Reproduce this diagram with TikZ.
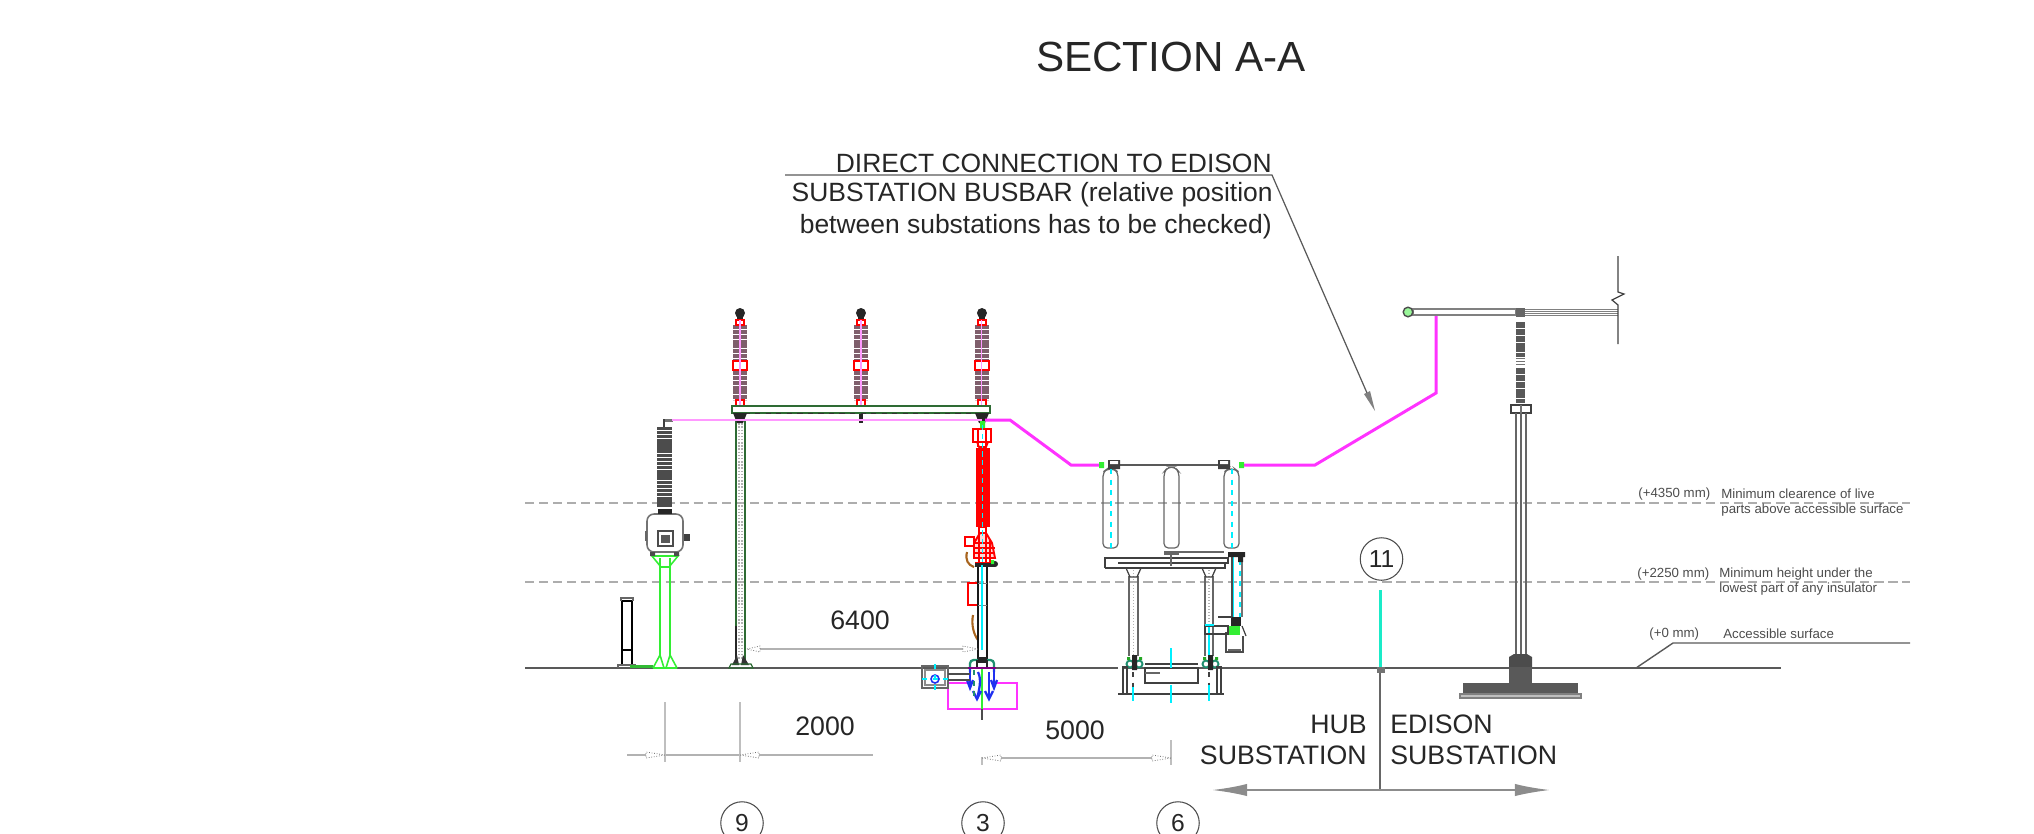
\documentclass[tikz,border=0pt]{standalone}
\usepackage{fontspec}
\setmainfont{Liberation Sans}
\usetikzlibrary{arrows.meta}

\definecolor{shedgray}{HTML}{7F5F6C}
\definecolor{wiremag}{HTML}{FF33FF}
\definecolor{paleMag}{HTML}{FF99FF}
\definecolor{lime}{HTML}{33EE33}
\definecolor{darkgreen}{HTML}{2E6B34}
\definecolor{seagreen}{HTML}{1F8F70}
\definecolor{brownwire}{HTML}{A8641E}
\definecolor{brightcyan}{HTML}{00F0FF}
\definecolor{boundcyan}{HTML}{1AEBC8}
\definecolor{wireblue}{HTML}{2030F0}

\tikzset{
  bigtext/.style={inner sep=0pt, font=\fontsize{15.2}{15.2}\selectfont, text=black!85},
  notetext/.style={inner sep=0pt, anchor=base east, font=\fontsize{15.05}{15.05}\selectfont, text=black!85},
  smalltext/.style={inner sep=0pt, anchor=base west, font=\fontsize{7.55}{7.55}\selectfont, text=black!70},
  callout/.style={circle, draw=black!70, line width=0.6pt, minimum size=42.5*0.02cm, inner sep=0pt, font=\fontsize{14}{14}\selectfont, text=black!85},
  levelline/.style={draw=black!32, line width=1.1pt, dash pattern=on 5.2pt off 2.8pt},
  dimline/.style={draw=black!30, line width=0.8pt},
  extline/.style={draw=black!25, line width=0.6pt},
  dimtip/.style={draw=black!55, line width=0.45pt, densely dotted},
  steel/.style={draw=black!75, line width=0.7pt},
  thinsteel/.style={draw=black!60, line width=0.7pt},
  sheds/.style={line width=8pt, dash pattern=on 2.3pt off 0.45pt},
  busbar/.style={draw=wiremag, line width=1.7pt, line join=miter},
}

\begin{document}
\begin{tikzpicture}[x=0.02cm, y=-0.02cm, >=stealth]
  \useasboundingbox (0,0) rectangle (2034,833);
  \clip (0,0) rectangle (2034,833);

  %%%%%%%%%%%%%%%%%%%%%%%%%%%%%%%%%%%%%%%%%%%%%%%%%
  % Title and note
  \node[inner sep=0pt, font=\fontsize{24}{24}\selectfont, text=black!85] (title) at (1171,57) {SECTION A-A};

  \node[notetext] (noteA) at (1272,172) {DIRECT CONNECTION TO EDISON};
  \node[notetext] (noteB) at (1273,201) {SUBSTATION BUSBAR (relative position};
  \node[notetext] (noteC) at (1272,233) {between substations has to be checked)};

  \coordinate (noteStart) at (785,175);
  \coordinate (noteKnee) at (1272,175);
  \coordinate (noteTip) at (1375,411);
  \draw[draw=black!65, line width=0.7pt] (noteStart) -- (noteKnee) -- (1367,393);
  \fill[black!50] (noteTip) -- (1364,394) -- (1370,391) -- cycle;

  %%%%%%%%%%%%%%%%%%%%%%%%%%%%%%%%%%%%%%%%%%%%%%%%%
  % Levels
  \coordinate (levelA) at (525,503);
  \coordinate (levelAend) at (1910,503);
  \coordinate (levelB) at (525,582);
  \coordinate (levelBend) at (1910,582);
  \draw[levelline] (levelA) -- (levelAend);
  \draw[levelline] (levelB) -- (levelBend);

  \coordinate (groundL) at (525,668);
  \coordinate (groundR) at (1781,668);
  \draw[draw=black!65, line width=1.1pt] (groundL) -- (groundR);
  \coordinate (surfFoot) at (1636,668);
  \coordinate (surfKnee) at (1673,643);
  \coordinate (surfEnd) at (1910,643);
  \draw[draw=black!65, line width=0.8pt] (surfFoot) -- (surfKnee) -- (surfEnd);

  \node[smalltext] (lvlA) at (1638,497) {(+4350 mm)};
  \node[smalltext] (lvlAa) at (1721,498) {Minimum clearence of live};
  \node[smalltext] (lvlAb) at (1721,513) {parts above accessible surface};
  \node[smalltext] (lvlB) at (1637,577) {(+2250 mm)};
  \node[smalltext] (lvlBa) at (1719,577) {Minimum height under the};
  \node[smalltext] (lvlBb) at (1719,592) {lowest part of any insulator};
  \node[smalltext] (lvlC) at (1649,637) {(+0 mm)};
  \node[smalltext] (lvlCa) at (1723,638) {Accessible surface};

  %%%%%%%%%%%%%%%%%%%%%%%%%%%%%%%%%%%%%%%%%%%%%%%%%
  % Cabinet and voltage transformer
  \draw[draw=black, line width=1.6pt] (622,601) rectangle (632,665);
  \draw[draw=black, line width=1.2pt] (622,650) -- (632,650);
  \draw[thinsteel] (621,601) -- (621,598) -- (633,598) -- (633,601);
  \draw[thinsteel] (618,668) -- (618,665) -- (636,665);
  \fill[lime!60!darkgreen] (630,665) rectangle (653,668);

  \draw[draw=lime, line width=0.9pt] (660,558) -- (660,655) (670,558) -- (670,655);
  \draw[draw=lime, line width=0.9pt] (652,556) -- (678,556) -- (669,567) -- (661,567) -- cycle;
  \draw[draw=lime, line width=0.9pt] (653,668) -- (660,655) -- (664,668) (677,668) -- (670,655) -- (666,668) (653,668) -- (677,668);

  \draw[draw=black!55, line width=0.9pt, fill=white, rounded corners=4pt] (647,552) -- (647,514) -- (683,514) -- (683,552) -- cycle;
  \draw[draw=black!70, line width=0.8pt] (658,531) rectangle (673,546);
  \fill[black!65] (661,535) rectangle (670,543);
  \fill[black!75] (684,534) rectangle (690,541);
  \fill[black!60] (645,531) rectangle (647,541);
  \fill[black!70] (650,552) rectangle (655,556) (674,552) rectangle (679,556);
  \fill[black!85] (658,509) rectangle (672,514);
  \draw[draw=black!70, line width=8.6pt, dash pattern=on 1.8pt off 0.4pt] (664.5,427) -- (664.5,507);
  \draw[steel] (664,427) -- (664,420) -- (672,420);
  \fill[black!55] (665,419) rectangle (673,422);

  %%%%%%%%%%%%%%%%%%%%%%%%%%%%%%%%%%%%%%%%%%%%%%%%%
  % Insulators on the gantry
  \begin{scope}
    \fill[black!85] (740,313) circle[radius=5];
    \fill[black!85] (737,317) rectangle (743,320);
    \draw[sheds, draw=shedgray] (740,325) -- (740,360);
    \draw[sheds, draw=shedgray] (740,371) -- (740,400);
    \draw[draw=red, line width=1.1pt] (733,361) rectangle (747,370);
    \draw[draw=red, line width=1pt] (736,320) rectangle (744,325) (736,400) rectangle (744,406);
    \draw[draw=paleMag, line width=0.6pt] (740,320) -- (740,406);
  \end{scope}

  \begin{scope}[xshift=2.42cm]
    \fill[black!85] (740,313) circle[radius=5];
    \fill[black!85] (737,317) rectangle (743,320);
    \draw[sheds, draw=shedgray] (740,325) -- (740,360);
    \draw[sheds, draw=shedgray] (740,371) -- (740,400);
    \draw[draw=red, line width=1.1pt] (733,361) rectangle (747,370);
    \draw[draw=red, line width=1pt] (736,320) rectangle (744,325) (736,400) rectangle (744,406);
    \draw[draw=paleMag, line width=0.6pt] (740,320) -- (740,406);
    \fill[black!85] (738,414) rectangle (742,423);
  \end{scope}

  \begin{scope}[xshift=4.84cm]
    \fill[black!85] (740,313) circle[radius=5];
    \fill[black!85] (737,317) rectangle (743,320);
    \draw[sheds, draw=shedgray] (740,325) -- (740,360);
    \draw[sheds, draw=shedgray] (740,371) -- (740,400);
    \draw[draw=red, line width=1.1pt] (733,361) rectangle (747,370);
    \draw[draw=red, line width=1pt] (736,320) rectangle (744,325) (736,400) rectangle (744,406);
    \draw[draw=paleMag, line width=0.6pt] (740,320) -- (740,406);
  \end{scope}

  % Gantry
  \draw[draw=darkgreen, line width=1pt, fill=white] (732,406) rectangle (990,413);
  \draw[draw=black!80, line width=0.5pt, dashed] (734,413) -- (988,413);
  \draw[draw=darkgreen, line width=0.9pt] (736,420) -- (736,662) (745,420) -- (745,662);
  \draw[draw=black!30, line width=0.8pt, densely dotted] (739,420) -- (739,660) (742,420) -- (742,660);
  \draw[draw=black!85, line width=0.9pt] (736,626) -- (736,660);
  \fill[black!85] (733,413) -- (747,413) -- (743,423) -- (737,423) -- cycle;
  \fill[black!85] (975,413) -- (989,413) -- (985,423) -- (979,423) -- cycle;
  \fill[black!80] (732,665) -- (737,655) -- (739,665) -- cycle (749,665) -- (743,655) -- (741,665) -- cycle;
  \draw[draw=darkgreen, line width=0.7pt] (729,668) -- (731,664) -- (751,664) -- (753,668) -- cycle;

  %%%%%%%%%%%%%%%%%%%%%%%%%%%%%%%%%%%%%%%%%%%%%%%%%
  % Busbar
  \coordinate (busHV) at (672,420);
  \coordinate (busKnee) at (1010,420);
  \draw[draw=paleMag, line width=1pt] (busHV) -- (982,420);
  \draw[busbar] (985,420) -- (busKnee) -- (1071,465) -- (1100,465);
  \draw[busbar] (1243,465) -- (1315,465) -- (1436,393) -- (1436,315);
  \fill[lime] (1099,462) rectangle (1104,468) (1239,462) rectangle (1244,468);

  %%%%%%%%%%%%%%%%%%%%%%%%%%%%%%%%%%%%%%%%%%%%%%%%%
  % Surge arrester
  \begin{scope}
    \fill[red] (975.5,448) rectangle (989.5,527);
    \draw[draw=red, line width=1.4pt] (973,429) rectangle (991,442);
    \draw[draw=red, line width=0.8pt] (978,429) -- (978,447) (986,429) -- (986,447);
    \draw[draw=red, line width=1pt] (977,442) -- (988,442) -- (986,447) -- (979,447) -- cycle;
    \draw[draw=red, line width=1pt] (979,527) rectangle (986,534);
    \draw[draw=red, line width=1.1pt, fill=red!15] (974,558) -- (974,543) -- (980,533) -- (986,533) -- (992,543) -- (995,558) -- cycle;
    \draw[draw=red, line width=0.9pt] (974,543) -- (992,543) (974,548) -- (995,548) (974,553) -- (995,553) (979,534) -- (979,563) (986,534) -- (986,563) (990,540) -- (990,563) (975,563) -- (992,563);
    \draw[draw=red, line width=1.1pt] (965,537) -- (974,537) -- (974,546) -- (965,546) -- cycle;
    \draw[draw=red, line width=0.9pt] (968,583) rectangle (978,605);

    \draw[draw=brownwire, line width=1.2pt] (967,552) .. controls (965,560) and (968,565) .. (974,567);
    \draw[draw=brownwire, line width=1.2pt] (973,615) .. controls (971,625) and (974,635) .. (978,640);
    \fill[black!85] (975,563) rectangle (995,567);
    \fill[black!85] (995,564) circle[radius=3];
    \fill[lime] (991,560) rectangle (994,564) (980,421) rectangle (985,428);

    \draw[draw=black!90, line width=0.9pt] (978,567) -- (978,663) (987,567) -- (987,663);
    \draw[draw=black!50, line width=0.5pt] (978,583) -- (987,583) (978,605) -- (987,605);
    \draw[draw=brightcyan, line width=0.5pt, densely dashed] (982,425) -- (982,565);
    \draw[draw=brightcyan, line width=0.9pt] (982,565) -- (982,650);
  \end{scope}

  % Surge arrester foundation
  \draw[draw=wiremag, line width=0.9pt] (948,683) rectangle (1017,709);
  \fill[white] (970,680) rectangle (994,700);
  \draw[draw=lime, line width=0.8pt] (982,668) -- (982,709);
  \draw[draw=black!70, line width=0.6pt] (982,709) -- (982,720);
  \draw[draw=seagreen, line width=1.3pt, rounded corners=2pt] (970,672) -- (970,660) -- (994,660) -- (994,672);
  \draw[draw=black!85, line width=1pt] (977,667) -- (977,660) (987,667) -- (987,660);
  \fill[black!85] (978,657) rectangle (987,663);
  \draw[draw=wireblue, line width=1.3pt] (970,668) -- (970,687) (994,668) -- (994,687);
  \draw[draw=wireblue, line width=1.3pt] (967,680) -- (970,688) -- (973,680) (991,680) -- (994,688) -- (997,680);
  \draw[draw=wireblue, line width=1.3pt] (978,672) .. controls (982,680) and (979,690) .. (977,699);
  \draw[draw=wireblue, line width=1.3pt] (989,672) -- (989,699);
  \draw[draw=wireblue, line width=1.3pt] (973,691) -- (977,699) -- (981,691) (985,691) -- (989,699) -- (993,691);
  \draw[draw=seagreen, line width=0.8pt, dashed] (974,670) -- (974,699);
  \draw[draw=violet, line width=1pt] (968,668) -- (996,668);

  \draw[draw=black!60, line width=1pt] (922,666) rectangle (948,688);
  \draw[draw=black!45, line width=0.7pt] (925,670) rectangle (945,685);
  \draw[draw=black!70, line width=0.7pt] (948,674) -- (970,674) (948,680) -- (970,680);
  \draw[draw=wireblue, line width=0.9pt] (935,679) circle[radius=4];
  \draw[draw=brightcyan, line width=0.8pt, dashed] (922,679) -- (948,679) (935,664) -- (935,692);

  %%%%%%%%%%%%%%%%%%%%%%%%%%%%%%%%%%%%%%%%%%%%%%%%%
  % Circuit breaker
  \draw[thinsteel, rounded corners=2.5pt] (1103,548) -- (1103,472) -- (1107,469) -- (1114,469) -- (1118,472) -- (1118,548) -- cycle;
  \draw[thinsteel, rounded corners=2.5pt] (1164,548) -- (1164,472) -- (1168,467) -- (1175,467) -- (1179,472) -- (1179,548) -- cycle;
  \draw[thinsteel, rounded corners=2.5pt] (1224,548) -- (1224,472) -- (1228,469) -- (1235,469) -- (1239,472) -- (1239,548) -- cycle;
  \draw[draw=black!65, line width=1.1pt] (1114,465) -- (1226,465);
  \fill[black!75] (1108,460) rectangle (1120,469) (1218,460) rectangle (1230,469);
  \fill[white] (1110,461) rectangle (1118,464) (1220,461) rectangle (1228,464);
  \draw[draw=brightcyan, line width=0.9pt, dashed] (1111,469) -- (1111,550) (1232,469) -- (1232,550);

  \draw[steel] (1105,568) -- (1105,558) -- (1228,558) -- (1228,563) -- (1118,563);
  \draw[steel] (1105,568) -- (1225,568) -- (1225,563);
  \fill[black!60] (1164,551) rectangle (1179,555);
  \draw[thinsteel] (1179,552) -- (1224,552);
  \draw[thinsteel] (1171,555) -- (1171,566);

  \draw[thinsteel] (1129,576) -- (1129,656) (1138,576) -- (1138,656);
  \draw[draw=black!30, line width=0.7pt, densely dotted] (1133.5,570) -- (1133.5,655);
  \draw[thinsteel] (1205,576) -- (1205,656) (1213,576) -- (1213,656);
  \draw[draw=black!30, line width=0.7pt, densely dotted] (1209,570) -- (1209,655);
  \draw[steel] (1126,568) -- (1130,577) -- (1137,577) -- (1141,568) (1202,568) -- (1206,577) -- (1212,577) -- (1216,568);

  \draw[draw=seagreen, line width=1.1pt] (1130,664) circle[radius=3.5] (1139,664) circle[radius=3.5] (1206,664) circle[radius=3.5] (1215,664) circle[radius=3.5];
  \fill[black!85] (1132,655) rectangle (1137,670) (1208,655) rectangle (1213,670);
  \fill[lime!70!black] (1127,657) rectangle (1130,660) (1139,657) rectangle (1142,660) (1203,657) rectangle (1206,660) (1215,657) rectangle (1218,660);

  % Breaker foundation
  \draw[steel] (1123,694) -- (1123,667) -- (1127,667) -- (1127,694);
  \draw[steel] (1221,694) -- (1221,667) -- (1217,667) -- (1217,694);
  \draw[steel] (1145,668) rectangle (1198,683);
  \draw[steel] (1145,664) -- (1198,664);
  \draw[thinsteel] (1145,673) -- (1160,673);
  \draw[steel] (1118,694) -- (1224,694);
  \draw[draw=black!75, line width=0.6pt, dashed] (1133,672) -- (1133,693) (1209,672) -- (1209,693);
  \draw[draw=brightcyan, line width=0.9pt] (1171,648) -- (1171,668) (1171,685) -- (1171,703);
  \draw[draw=brightcyan, line width=0.9pt] (1133,687) -- (1133,701) (1209,685) -- (1209,701) (1209,625) -- (1209,655);
  \fill[white] (1118,667) rectangle (1122,669);

  % Operating mechanism
  \draw[draw=black!70, line width=0.9pt] (1232,553) -- (1232,617);
  \draw[draw=brightcyan, line width=1pt] (1233.5,553) -- (1233.5,617);
  \draw[draw=brightcyan, line width=0.9pt, dashed] (1240,560) -- (1240,617);
  \draw[draw=black!55, line width=0.6pt] (1242,560) -- (1242,617);
  \fill[black!85] (1228,552) rectangle (1245,557) (1238,557) rectangle (1243,562);
  \draw[draw=black!70, line width=0.9pt] (1226,632) -- (1226,652) -- (1243,652) -- (1243,636);
  \draw[draw=black!60, line width=0.7pt] (1228,650) -- (1241,650);
  \fill[lime] (1229,626) rectangle (1240,635);
  \fill[black!85] (1231,617) rectangle (1241,626);
  \draw[steel] (1218,617) -- (1232,617);
  \draw[steel] (1205,626) rectangle (1228,634);
  \draw[draw=brightcyan, line width=1pt] (1205,625) -- (1214,625);
  \draw[steel] (1242,626) -- (1246,636);

  %%%%%%%%%%%%%%%%%%%%%%%%%%%%%%%%%%%%%%%%%%%%%%%%%
  % Edison substation post
  \draw[draw=black!50, line width=0.8pt, fill=white] (1413,309) rectangle (1516,315);
  \draw[draw=black!50, line width=0.5pt] (1525,309) -- (1618,309) (1525,311) -- (1618,311) (1525,313) -- (1618,313) (1525,315) -- (1618,315);
  \draw[draw=black!70, line width=0.8pt, fill=lime!50] (1408,312) circle[radius=4.8];
  \fill[black!60] (1516,308) rectangle (1525,317);
  \draw[steel] (1618,256) -- (1618,292) -- (1624,294) -- (1612,300) -- (1618,305) -- (1618,344);

  \draw[draw=black!65, line width=5.2pt, dash pattern=on 1.7pt off 0.25pt] (1520.5,322) -- (1520.5,357);
  \draw[draw=black!65, line width=5.2pt, dash pattern=on 1.7pt off 0.25pt] (1520.5,368) -- (1520.5,403);
  \draw[draw=black!55, line width=0.5pt] (1516,358) -- (1525,358) (1516,361) -- (1525,361) (1516,364) -- (1525,364);
  \draw[draw=black!75, line width=0.9pt, fill=white] (1511,405) rectangle (1531,413);
  \fill[black!55] (1520,405) rectangle (1522,413);

  \draw[thinsteel] (1516,413) -- (1516,660) (1521,413) -- (1521,660) (1526,413) -- (1526,660);
  \fill[black!70] (1509,667) -- (1509,657) -- (1514,654) -- (1527,654) -- (1532,657) -- (1532,667) -- cycle;
  \fill[black!65] (1509,667) rectangle (1532,683);
  \fill[black!65] (1463,683) rectangle (1578,693);
  \draw[draw=black!50, line width=0.8pt, fill=black!25] (1460,694) rectangle (1581,698);

  %%%%%%%%%%%%%%%%%%%%%%%%%%%%%%%%%%%%%%%%%%%%%%%%%
  % Dimensions
  \coordinate (dimA) at (747,649);
  \coordinate (dimB) at (978,649);
  \draw[dimline] (760,649) -- (963,649);
  \draw[dimtip] (dimA) -- (760,646) -- (760,652) -- cycle;
  \draw[dimtip] (dimB) -- (963,646) -- (963,652) -- cycle;
  \node[bigtext] (sixfour) at (860,620) {6400};

  \coordinate (dimC) at (665,755);
  \coordinate (dimD) at (740,755);
  \draw[dimline] (627,755) -- (646,755) (665,755) -- (740,755) (759,755) -- (873,755);
  \draw[extline] (665,702) -- (665,762) (740,702) -- (740,762);
  \draw[dimtip] (dimC) -- (646,752) -- (646,758) -- cycle;
  \draw[dimtip] (dimD) -- (759,752) -- (759,758) -- cycle;
  \node[bigtext] (twoth) at (825,726) {2000};

  \coordinate (dimE) at (982,758);
  \coordinate (dimF) at (1171,758);
  \draw[dimline] (1001,758) -- (1152,758);
  \draw[extline] (982,757) -- (982,765) (1171,740) -- (1171,765);
  \draw[dimtip] (dimE) -- (1001,755) -- (1001,761) -- cycle;
  \draw[dimtip] (dimF) -- (1152,755) -- (1152,761) -- cycle;
  \node[bigtext] (fiveth) at (1075,730) {5000};

  %%%%%%%%%%%%%%%%%%%%%%%%%%%%%%%%%%%%%%%%%%%%%%%%%
  % Boundary between substations
  \node[callout] (markEleven) at (1381.5,559) {11};
  \coordinate (boundTop) at (1380,590);
  \coordinate (boundFoot) at (1380,667);
  \coordinate (boundEnd) at (1380,790);
  \coordinate (arrowL) at (1212,790);
  \coordinate (arrowR) at (1550,790);
  \draw[draw=boundcyan, line width=1.7pt] (boundTop) -- (boundFoot);
  \fill[black!55] (1377,667) rectangle (1385,673);
  \draw[draw=black!60, line width=0.8pt] (1380,673) -- (boundEnd);
  \draw[{Latex[length=20pt, width=7pt]}-{Latex[length=20pt, width=7pt]}, draw=black!45, line width=1.1pt] (arrowL) -- (arrowR);

  \node[bigtext, anchor=east] (hubA) at (1367,724) {HUB};
  \node[bigtext, anchor=east] (hubB) at (1367,755) {SUBSTATION};
  \node[bigtext, anchor=west] (edisonA) at (1390,724) {EDISON};
  \node[bigtext, anchor=west] (edisonB) at (1390,755) {SUBSTATION};

  %%%%%%%%%%%%%%%%%%%%%%%%%%%%%%%%%%%%%%%%%%%%%%%%%
  % Callouts
  \node[callout] (markNine) at (742,823) {9};
  \node[callout] (markThree) at (983,823) {3};
  \node[callout] (markSix) at (1178,823) {6};

\end{tikzpicture}
\end{document}
